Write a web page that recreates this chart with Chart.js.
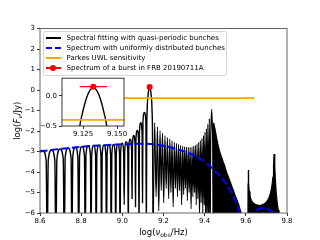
<!DOCTYPE html>
<html>
<head>
<meta charset="utf-8">
<script src="https://cdn.jsdelivr.net/npm/chart.js@4/dist/chart.umd.min.js"></script>
<style>
  html, body { margin: 0; padding: 0; background: #fff; }
  #wrap { position: relative; width: 320px; height: 240px; font-family: "DejaVu Sans", sans-serif; }
  #mainChart { position: absolute; left: 0; top: 0; }
  #insetChart { position: absolute; left: 30px; top: 72px; }
  #legend {
    position: absolute; left: 42.5px; top: 30.5px; width: 184px; height: 45px;
    box-sizing: border-box; border: 1px solid #d6d6d6; border-radius: 2px;
    background: rgba(255,255,255,0.8);
  }
  .row { position: absolute; left: 0; width: 100%; height: 10px; }
  .key { position: absolute; left: 2px; top: 4px; width: 15px; height: 2px; }
  .solid-black { background: #000; }
  .dash-blue { background: linear-gradient(to right, #00f 0 6.5px, transparent 6.5px 9px, #00f 9px 15px); }
  .solid-orange { background: #ffa500; }
  .marker-red { background: #f00; height: 1.5px; }
  .marker-red::after {
    content: ""; position: absolute; left: 4.5px; top: -2.25px;
    width: 6px; height: 6px; border-radius: 50%; background: #f00;
  }
  .tx { position: absolute; left: 23px; top: 0; line-height: 10px; font-size: 7px; color: #000; white-space: nowrap; }
</style>
</head>
<body>
<div id="wrap">
  <canvas id="mainChart" width="320" height="240"></canvas>
  <canvas id="insetChart" width="100" height="68"></canvas>
  <div id="legend"></div>
</div>
<script>
// --- DATA ---

const seriesLabels = [
  "Spectral fitting with quasi-periodic bunches",
  "Spectrum with uniformly distributed bunches",
  "Parkes UWL sensitivity",
  "Spectrum of a burst in FRB 20190711A"
];

// main axes ticks
const xTickValues = [8.6, 8.8, 9.0, 9.2, 9.4, 9.6, 9.8];
const xTickLabels = ["8.6", "8.8", "9.0", "9.2", "9.4", "9.6", "9.8"];
const yTickValues = [-6, -5, -4, -3, -2, -1, 0, 1, 2, 3];
const yTickLabels = ["\u22126", "\u22125", "\u22124", "\u22123", "\u22122", "\u22121", "0", "1", "2", "3"];

// inset ticks
const insetXTickValues = [9.125, 9.15];
const insetXTickLabels = ["9.125", "9.150"];
const insetYTickValues = [-0.5, 0];
const insetYTickLabels = ["\u22120.5", "0.0"];

// black curve: separate lobes below 9.12 (dip, shoulder, top, shoulder)
const fitLobes = [
  [8.6, -2.96], [8.614, -2.95], [8.630, -3.45],
  [8.635, -8], [8.640, -3.43], [8.656, -2.93], [8.672, -3.43],
  [8.677, -8], [8.682, -3.38], [8.6975, -2.88], [8.713, -3.38],
  [8.718, -8], [8.722, -3.33], [8.7365, -2.83], [8.751, -3.33],
  [8.755, -8], [8.759, -3.29], [8.7715, -2.79], [8.784, -3.29],
  [8.788, -8], [8.792, -3.25], [8.804, -2.75], [8.816, -3.25],
  [8.820, -8], [8.823, -3.22], [8.834, -2.72], [8.845, -3.22],
  [8.848, -8], [8.851, -3.2], [8.8605, -2.7], [8.870, -3.2],
  [8.873, -8], [8.876, -3.19], [8.886, -2.69], [8.896, -3.19],
  [8.899, -8], [8.902, -3.18], [8.911, -2.68], [8.920, -3.18],
  [8.923, -8], [8.926, -3.17], [8.9345, -2.67], [8.943, -3.17],
  [8.946, -8], [8.949, -3.16], [8.957, -2.66], [8.965, -3.16],
  [8.968, -8], [8.9705, -3.14], [8.9785, -2.64], [8.9865, -3.14],
  [8.989, -8], [8.9915, -3.1], [8.999, -2.6], [9.0065, -3.1],
  [9.009, -5.6], [9.0115, -3.02], [9.019, -2.52], [9.0265, -3.02],
  [9.029, -7], [9.031, -2.9], [9.038, -2.4], [9.045, -2.9],
  [9.047, -5.3], [9.049, -2.72], [9.0555, -2.22], [9.062, -2.72],
  [9.064, -5.7], [9.066, -2.47], [9.0725, -1.97], [9.079, -2.47],
  [9.081, -7], [9.083, -2.1], [9.0895, -1.6], [9.096, -2.1],
  [9.098, -5.5], [9.100, -1.6], [9.1075, -1.1], [9.1145, -1.6]
];

// black curve: main lobe around 1.36 GHz (seen in the inset)
const fitMainLobe = [
  [9.1165, -7], [9.1186, -1.9], [9.1206, -1.0], [9.1226, -0.5], [9.1244, -0.3],
  [9.1264, -0.12], [9.1284, 0.015], [9.1304, 0.1], [9.1325, 0.14], [9.1346, 0.1],
  [9.1366, 0.015], [9.1386, -0.12], [9.1406, -0.3], [9.1424, -0.5], [9.1444, -1.0],
  [9.1464, -1.9], [9.1495, -7]
];

// black curve: dense lobes up to the second harmonic (top, dip pairs)
const fitDense = [
  [9.157, -1.6], [9.164, -5.2], [9.1705, -1.8], [9.177, -5.9], [9.183, -1.98], [9.189, -4.9],
  [9.195, -2.1], [9.201, -5.5], [9.207, -2.22], [9.213, -4.8], [9.219, -2.32], [9.225, -5.3],
  [9.2305, -2.4], [9.236, -5.0], [9.2415, -2.48], [9.247, -5.7], [9.2525, -2.55], [9.258, -4.8],
  [9.263, -2.6], [9.268, -5.2], [9.273, -2.65], [9.278, -4.9], [9.283, -2.7], [9.288, -5.6],
  [9.293, -2.74], [9.298, -5.1], [9.3025, -2.77], [9.307, -4.8], [9.3115, -2.79], [9.316, -5.4],
  [9.3205, -2.8], [9.325, -5.0], [9.3295, -2.8], [9.334, -5.8], [9.3385, -2.78], [9.343, -5.2],
  [9.347, -2.74], [9.351, -5.0], [9.355, -2.7], [9.359, -5.6], [9.363, -2.64], [9.367, -5.3],
  [9.371, -2.56], [9.375, -6.2], [9.379, -2.47], [9.383, -5.5], [9.387, -2.36], [9.391, -6.0],
  [9.3945, -2.22], [9.398, -5.6], [9.4015, -2.06], [9.405, -7], [9.4085, -1.88], [9.412, -6.2],
  [9.4155, -1.66], [9.419, -7], [9.4225, -1.4], [9.427, -7],
  [9.429, -2.7], [9.431, -1.7], [9.434, -0.94], [9.437, -1.7], [9.439, -2.7], [9.441, -7]
];

// black curve: solid (unresolved) part after the second harmonic
const fitSolidHigh = [
  [9.441, -7], [9.4435, -1.6], [9.4515, -2.0], [9.4585, -2.4], [9.465, -2.7], [9.471, -2.95],
  [9.477, -3.15], [9.483, -3.3], [9.489, -3.5], [9.495, -3.65], [9.501, -3.85], [9.507, -4.05],
  [9.513, -4.2], [9.519, -4.35], [9.5245, -4.5], [9.5295, -4.65], [9.5345, -4.78], [9.5395, -4.9],
  [9.5445, -5.05], [9.5495, -5.2], [9.5545, -5.32], [9.5595, -5.45], [9.5645, -5.58], [9.5695, -5.75],
  [9.575, -5.95], [9.578, -7]
];

// black curve: third and fourth harmonics
const fitHarmonics34 = [
  [9.6105, -7], [9.6112, -4.6], [9.6122, -3.9], [9.6135, -4.5], [9.616, -4.95], [9.62, -5.2],
  [9.627, -5.4], [9.636, -5.52], [9.648, -5.6], [9.662, -5.63], [9.676, -5.62], [9.69, -5.56],
  [9.702, -5.45], [9.712, -5.28], [9.72, -5.05], [9.727, -4.7], [9.732, -4.25], [9.735, -3.7],
  [9.7375, -3.12], [9.740, -3.7], [9.743, -4.35], [9.747, -5.0], [9.752, -5.5], [9.757, -5.85],
  [9.761, -7]
];

// blue dashed: uniformly distributed bunches
const uniformSpec = [
  [8.6, -3.0], [8.65, -2.93], [8.7, -2.87], [8.75, -2.82], [8.8, -2.77], [8.85, -2.73],
  [8.9, -2.7], [8.95, -2.67], [9.0, -2.65], [9.05, -2.63], [9.1, -2.62], [9.15, -2.64],
  [9.2, -2.72], [9.25, -2.84], [9.3, -3.0], [9.35, -3.2], [9.4, -3.5], [9.43, -3.75],
  [9.46, -4.05], [9.49, -4.38], [9.51, -4.65], [9.53, -4.98], [9.55, -5.42], [9.565, -5.82],
  [9.578, -6.3], [9.6, null], [9.626, -6.3], [9.64, -5.95], [9.66, -5.82], [9.685, -5.76],
  [9.71, -5.82], [9.73, -5.95], [9.745, -6.2]
];

// orange: Parkes UWL sensitivity
const parkesLine = [[8.85, -0.4], [9.64, -0.4]];

// red: burst measurement with its band
const burstPoint = [[9.1325, 0.15]];
const burstBand = [[9.1225, 0.15], [9.1425, 0.15]];

// --- HELPERS ---

const toXY = pairs => pairs.map(([x, y]) => ({ x, y }));

Chart.defaults.font.family = "'DejaVu Sans', sans-serif";
Chart.defaults.font.size = 7;
Chart.defaults.color = "#000";

function makeDatasets() {
  const lineBase = { pointRadius: 0, clip: 0, capBezierPoints: false, fill: false };
  return [
    { ...lineBase, data: toXY(burstBand), borderColor: "#f00", borderWidth: 1.3, order: 0 },
    { ...lineBase, data: toXY(burstPoint), showLine: false, pointRadius: 3,
      pointBackgroundColor: "#f00", pointBorderColor: "#f00", pointBorderWidth: 0, order: 0 },
    { ...lineBase, data: toXY(parkesLine), borderColor: "#ffa500", borderWidth: 1.8, order: 1 },
    { ...lineBase, data: toXY(uniformSpec), borderColor: "#0000ff", borderWidth: 2,
      borderDash: [7.5, 3.2], cubicInterpolationMode: "monotone", order: 2 },
    { ...lineBase, data: toXY([...fitLobes, ...fitMainLobe]),
      borderColor: "#000", borderWidth: 1.4, cubicInterpolationMode: "monotone", order: 3 },
    { ...lineBase, data: toXY([[9.1495, -7], ...fitDense]),
      borderColor: "#000", borderWidth: 1.2, cubicInterpolationMode: "monotone", order: 3 },
    { ...lineBase, data: toXY(fitSolidHigh), borderColor: "#000", borderWidth: 1.4,
      fill: "start", backgroundColor: "#000", order: 4 },
    { ...lineBase, data: toXY(fitHarmonics34), borderColor: "#000", borderWidth: 1.4,
      fill: "start", backgroundColor: "#000", order: 4 }
  ];
}

// box round the plot area; optional white background (inset)
const framePlugin = {
  id: "frame",
  beforeDatasetsDraw(chart, args, opts) {
    if (!opts.fillWhite) return;
    const a = chart.chartArea;
    const ctx = chart.ctx;
    ctx.save();
    ctx.fillStyle = "#fff";
    ctx.fillRect(a.left, a.top, a.right - a.left, a.bottom - a.top);
    ctx.restore();
  },
  afterDraw(chart, args, opts) {
    const a = chart.chartArea;
    const ctx = chart.ctx;
    ctx.save();
    ctx.strokeStyle = opts.color || "#444";
    ctx.lineWidth = 0.9;
    ctx.strokeRect(a.left, a.top, a.right - a.left, a.bottom - a.top);
    ctx.restore();
  }
};

// axis titles with subscripts, like matplotlib mathtext
const xTitleParts = [
  { t: "log(", f: "8.5px" }, { t: "\u03bd", f: "italic 8.5px" },
  { t: "obs", f: "6px", dy: 2 }, { t: "/Hz)", f: "8.5px" }
];
const yTitleParts = [
  { t: "log(", f: "8.5px" }, { t: "F", f: "italic 8.5px" },
  { t: "\u03bd", f: "italic 6px", dy: 2 }, { t: "/Jy)", f: "8.5px" }
];

function drawRich(ctx, parts, cx, baseY) {
  const fam = " 'DejaVu Sans', sans-serif";
  let total = 0;
  parts.forEach(p => { ctx.font = p.f + fam; p.w = ctx.measureText(p.t).width; total += p.w; });
  let x = cx - total / 2;
  parts.forEach(p => {
    ctx.font = p.f + fam;
    ctx.fillText(p.t, x, baseY + (p.dy || 0));
    x += p.w;
  });
}

const titlePlugin = {
  id: "axisTitles",
  afterDraw(chart) {
    const ctx = chart.ctx;
    const a = chart.chartArea;
    ctx.save();
    ctx.fillStyle = "#000";
    ctx.textAlign = "left";
    ctx.textBaseline = "alphabetic";
    drawRich(ctx, xTitleParts, (a.left + a.right) / 2, 234.5);
    ctx.translate(20, (a.top + a.bottom) / 2);
    ctx.rotate(-Math.PI / 2);
    drawRich(ctx, yTitleParts, 0, 0);
    ctx.restore();
  }
};

function axis(min, max, values, labels, size, isX) {
  return {
    type: "linear",
    min, max,
    afterFit: s => { if (isX) s.height = size; else s.width = size; },
    afterBuildTicks: s => { s.ticks = values.map(v => ({ value: v })); },
    ticks: {
      autoSkip: false, maxRotation: 0, padding: isX ? 1 : 2,
      callback: (v, i) => labels[i]
    },
    grid: { drawOnChartArea: false, drawTicks: true, tickLength: 3, color: "#000", lineWidth: 0.8 },
    border: { display: false }
  };
}

// --- MAIN CHART ---

new Chart(document.getElementById("mainChart"), {
  type: "line",
  data: { datasets: makeDatasets() },
  options: {
    responsive: false,
    animation: false,
    events: [],
    layout: { padding: { left: 0, right: 33, top: 28.5, bottom: 0 } },
    plugins: { legend: { display: false }, tooltip: { enabled: false }, frame: { color: "#555" } },
    scales: {
      x: axis(8.6, 9.8, xTickValues, xTickLabels, 27, true),
      y: axis(-6, 3, yTickValues, yTickLabels, 40, false)
    }
  },
  plugins: [framePlugin, titlePlugin]
});

// --- INSET (zoom on the 1.36 GHz peak) ---

new Chart(document.getElementById("insetChart"), {
  type: "line",
  data: { datasets: makeDatasets() },
  options: {
    responsive: false,
    animation: false,
    events: [],
    layout: { padding: { left: 0, right: 6, top: 6, bottom: 0 } },
    plugins: { legend: { display: false }, tooltip: { enabled: false }, frame: { fillWhite: true, color: "#222" } },
    scales: {
      x: axis(9.1095, 9.1551, insetXTickValues, insetXTickLabels, 14, true),
      y: axis(-0.5, 0.29, insetYTickValues, insetYTickLabels, 32, false)
    }
  },
  plugins: [framePlugin]
});

// --- LEGEND ---

function buildLegend() {
  const box = document.getElementById("legend");
  const kinds = ["solid-black", "dash-blue", "solid-orange", "marker-red"];
  seriesLabels.forEach((label, i) => {
    const row = document.createElement("div");
    row.className = "row";
    row.style.top = (1.9 + i * 10) + "px";
    const key = document.createElement("span");
    key.className = "key " + kinds[i];
    const tx = document.createElement("span");
    tx.className = "tx";
    tx.textContent = label;
    row.appendChild(key);
    row.appendChild(tx);
    box.appendChild(row);
  });
}
buildLegend();
</script>
</body>
</html>
